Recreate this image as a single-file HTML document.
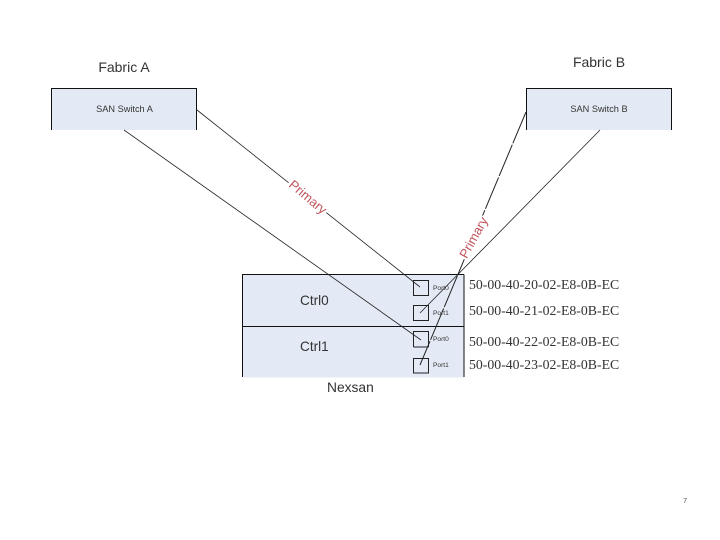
<!DOCTYPE html>
<html>
<head>
<meta charset="utf-8">
<style>
html,body{margin:0;padding:0;background:#fff;width:720px;height:540px;overflow:hidden}
svg{display:block}
text{font-family:"Liberation Sans",sans-serif;fill:#333}
.s{font-family:"Liberation Serif",serif;font-size:13.8px;fill:#333}
</style>
</head>
<body>
<svg width="720" height="540" viewBox="0 0 720 540" xmlns="http://www.w3.org/2000/svg">
<rect x="51.5" y="88.5" width="145" height="41.5" fill="#e4eaf5"/>
<path d="M51.5 130V88.5H196.5V130" fill="none" stroke="#111" stroke-width="1"/>
<rect x="526.5" y="88.5" width="145" height="41.5" fill="#e4eaf5"/>
<path d="M526.5 130V88.5H671.5V130" fill="none" stroke="#111" stroke-width="1"/>
<rect x="242.5" y="274.5" width="221.5" height="103" fill="#e4eaf5"/>
<path d="M242.5 377V274.5H464M242.5 326.5H464M464 274.5V377" fill="none" stroke="#111" stroke-width="1"/>
<g fill="none" stroke="#222" stroke-width="1">
<rect x="413.5" y="280.5" width="15" height="15"/>
<rect x="413.5" y="305.5" width="15" height="15"/>
<path d="M413.5 347V331.5H428.5V347M413.5 347H428.5"/>
<rect x="413.5" y="358.5" width="15" height="14.5"/>
</g>
<g fill="none" stroke="#222" stroke-width="0.8">
<path d="M197 110L420 287"/>
<path d="M124 130L421 340"/>
<path d="M600 130L420 313"/>
<path d="M526 112L420 365" stroke-width="1" stroke-dasharray="34 1.5"/>
</g>
<rect x="284" y="189" width="48" height="16" fill="#fff" transform="rotate(40 308 197)"/>
<rect x="450" y="230" width="47" height="15" fill="#fff" transform="rotate(-61 473.5 237.5)"/>
<text x="308" y="201.5" font-size="13" text-anchor="middle" style="fill:#c0555c" transform="rotate(40 308 197)">Primary</text>
<text x="473.5" y="242" font-size="13" text-anchor="middle" style="fill:#c0555c" transform="rotate(-61 473.5 237.5)">Primary</text>
<text x="124" y="72" font-size="14" text-anchor="middle">Fabric A</text>
<text x="599" y="67" font-size="14" text-anchor="middle">Fabric B</text>
<text x="124.5" y="112" font-size="9.2" text-anchor="middle">SAN Switch A</text>
<text x="599" y="112" font-size="9.2" text-anchor="middle">SAN Switch B</text>
<text x="300" y="305" font-size="13.6">Ctrl0</text>
<text x="300" y="351" font-size="13.6">Ctrl1</text>
<text x="327" y="392" font-size="13.8">Nexsan</text>
<text x="433" y="290" font-size="6.6">Port0</text>
<text x="433" y="315" font-size="6.6">Port1</text>
<text x="433" y="341" font-size="6.6">Port0</text>
<text x="433" y="367" font-size="6.6">Port1</text>
<text class="s" x="469" y="289">50-00-40-20-02-E8-0B-EC</text>
<text class="s" x="469" y="315">50-00-40-21-02-E8-0B-EC</text>
<text class="s" x="469" y="346">50-00-40-22-02-E8-0B-EC</text>
<text class="s" x="469" y="369">50-00-40-23-02-E8-0B-EC</text>
<text x="683" y="503" font-size="7.5" style="fill:#555">7</text>
</svg>
</body>
</html>
